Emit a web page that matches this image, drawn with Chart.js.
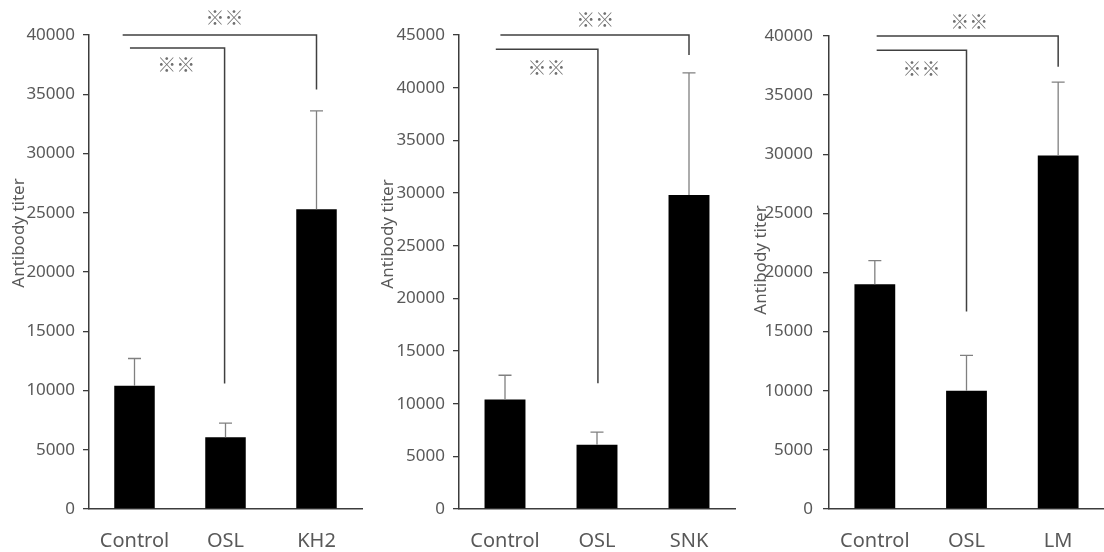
<!DOCTYPE html>
<html>
<head>
<meta charset="utf-8">
<script src="https://cdn.jsdelivr.net/npm/chart.js@4.4.1/dist/chart.umd.min.js"></script>
<style>
	body { margin: 0; background: #fff; }
	#wrap { position: relative; width: 1104px; height: 552px; }
	#wrap canvas { position: absolute; top: 0; }
</style>
</head>
<body>
<div id="wrap">
	<canvas id="titer-kh2" width="368" height="552" style="left:0"></canvas>
	<canvas id="titer-snk" width="368" height="552" style="left:368px"></canvas>
	<canvas id="titer-lm" width="368" height="552" style="left:736px"></canvas>
</div>
<script>
// group names, mean titer and upper error (SD) per panel
var groups_kh2 = ["Control", "OSL", "KH2"];
var mean_kh2 = [10400, 6050, 25300];
var err_kh2 = [2300, 1200, 8300];

var groups_snk = ["Control", "OSL", "SNK"];
var mean_snk = [10400, 6100, 29800];
var err_snk = [2300, 1200, 11600];

var groups_lm = ["Control", "OSL", "LM"];
var mean_lm = [19000, 10000, 29900];
var err_lm = [2000, 3000, 6200];

// y axis ranges
var ymax_kh2 = 40000;
var ymax_snk = 45000;
var ymax_lm = 40000;
var ystep = 5000;

var axis_color = '#3c3c3c';
var text_color = '#595959';

Chart.defaults.font.family = "'Noto Sans', 'Liberation Sans', sans-serif";
Chart.defaults.color = text_color;

// upward error bars with a cap
var errorBars = {
	id: 'errorBars',
	afterDatasetsDraw: function(chart, args, opts) {
		var ctx = chart.ctx;
		var y = chart.scales.y;
		var vals = chart.data.datasets[0].data;
		ctx.save();
		ctx.strokeStyle = '#808080';
		ctx.lineWidth = 1.3;
		chart.getDatasetMeta(0).data.forEach(function(bar, i) {
			var top = y.getPixelForValue(vals[i] + opts.errors[i]);
			ctx.beginPath();
			ctx.moveTo(bar.x, bar.y);
			ctx.lineTo(bar.x, top);
			ctx.moveTo(bar.x - 6.5, top);
			ctx.lineTo(bar.x + 6.5, top);
			ctx.stroke();
		});
		ctx.restore();
	}
};

// significance brackets + ※※ marks
var sigBrackets = {
	id: 'sigBrackets',
	afterDraw: function(chart, args, opts) {
		var ctx = chart.ctx;
		var x = chart.scales.x, y = chart.scales.y;
		ctx.save();
		opts.items.forEach(function(b) {
			var x0 = x.getPixelForValue(b.from), x1 = x.getPixelForValue(b.to);
			var yl = y.getPixelForValue(b.level), ye = y.getPixelForValue(b.drop);
			ctx.strokeStyle = '#404040';
			ctx.lineWidth = 1.5;
			ctx.beginPath();
			ctx.moveTo(x0, yl);
			ctx.lineTo(x1, yl);
			ctx.lineTo(x1, ye);
			ctx.stroke();
			ctx.fillStyle = '#707070';
			ctx.font = "19px 'Noto Sans CJK JP'";
			ctx.textAlign = 'center';
			ctx.textBaseline = 'middle';
			ctx.fillText('※※', x.getPixelForValue(b.markAt), y.getPixelForValue(b.markLevel));
		});
		ctx.restore();
	}
};

// rotated y axis title, placed freely
var yTitle = {
	id: 'yTitle',
	afterDraw: function(chart, args, opts) {
		var ctx = chart.ctx;
		ctx.save();
		ctx.translate(opts.x, opts.y);
		ctx.rotate(-Math.PI / 2);
		ctx.fillStyle = text_color;
		ctx.font = "17px 'Noto Sans'";
		ctx.textAlign = 'center';
		ctx.textBaseline = 'middle';
		ctx.fillText('Antibody titer', 0, 0);
		ctx.restore();
	}
};

function titerChart(id, labels, means, errs, ymax, p) {
	var cv = document.getElementById(id);
	return new Chart(cv, {
		type: 'bar',
		data: {
			labels: labels,
			datasets: [{
				data: means,
				backgroundColor: '#000',
				borderWidth: 0,
				barPercentage: 0.445,
				categoryPercentage: 1
			}]
		},
		options: {
			responsive: false,
			animation: false,
			layout: { padding: { top: p.top, right: p.right, left: 0, bottom: 0 } },
			plugins: {
				legend: { display: false },
				tooltip: { enabled: false },
				errorBars: { errors: errs },
				sigBrackets: { items: p.brackets },
				yTitle: { x: p.titleX, y: p.titleY }
			},
			scales: {
				x: {
					grid: { display: false },
					border: { display: true, color: axis_color, width: 1.5 },
					ticks: { font: { size: 20 }, padding: 12, color: text_color },
					afterFit: function(s) { s.height = 43; }
				},
				y: {
					min: 0,
					max: ymax,
					grid: { drawOnChartArea: false, drawTicks: true, tickLength: 6, color: axis_color, lineWidth: 1.3 },
					border: { display: true, color: axis_color, width: 1.5 },
					ticks: {
						stepSize: ystep,
						font: { size: 17 },
						padding: p.tickPad,
						color: text_color,
						callback: function(v) { return String(v); }
					},
					afterFit: function(s) { s.width = p.axisLeft; }
				}
			}
		},
		plugins: [errorBars, sigBrackets, yTitle]
	});
}

titerChart("titer-kh2", groups_kh2, mean_kh2, err_kh2, ymax_kh2, {
	top: 35, right: 6, axisLeft: 89, tickPad: 8, titleX: 19, titleY: 233,
	brackets: [
		{ from: -0.13, to: 2.0, level: 40000, drop: 35400, markAt: 0.99, markLevel: 41450 },
		{ from: -0.05, to: 0.99, level: 38900, drop: 10600, markAt: 0.46, markLevel: 37450 }
	]
});

titerChart("titer-snk", groups_snk, mean_snk, err_snk, ymax_snk, {
	top: 35, right: 1, axisLeft: 91, tickPad: 8, titleX: 20, titleY: 234,
	brackets: [
		{ from: -0.05, to: 2.0, level: 45000, drop: 43100, markAt: 0.98, markLevel: 46400 },
		{ from: -0.1, to: 1.01, level: 43650, drop: 11950, markAt: 0.45, markLevel: 41900 }
	]
});

titerChart("titer-lm", groups_lm, mean_lm, err_lm, ymax_lm, {
	top: 36, right: 0, axisLeft: 93, tickPad: 10, titleX: 25, titleY: 260,
	brackets: [
		{ from: 0.02, to: 2.0, level: 40000, drop: 37400, markAt: 1.03, markLevel: 41200 },
		{ from: 0.02, to: 1.0, level: 38800, drop: 16700, markAt: 0.51, markLevel: 37250 }
	]
});
</script>
</body>
</html>
